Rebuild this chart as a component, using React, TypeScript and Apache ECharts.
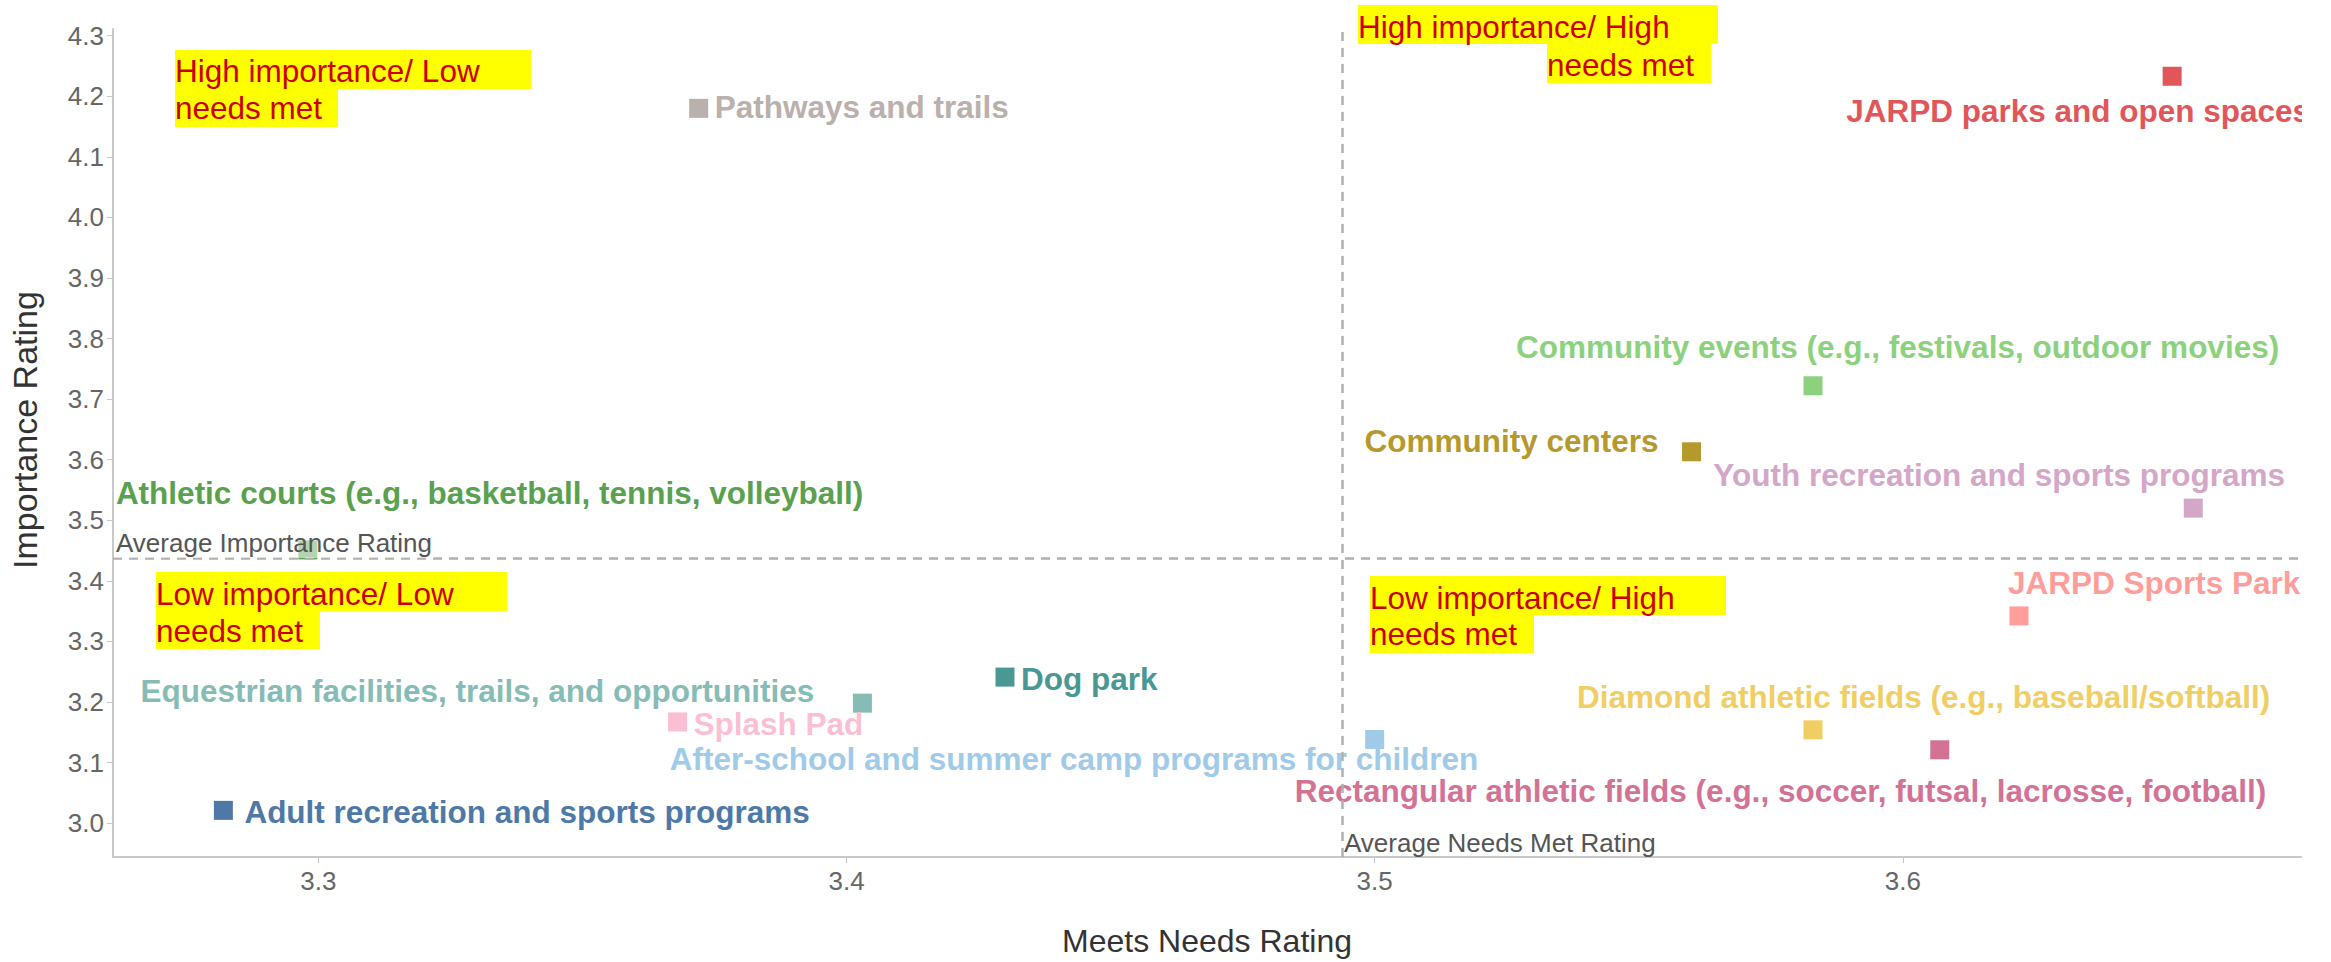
import React, { useEffect, useRef } from "react";
import * as echarts from "echarts";

const FONT = '"Liberation Sans", Arial, Helvetica, sans-serif';

// ---- data ----
const itemNames = [
  "Pathways and trails",
  "JARPD parks and open spaces",
  "Community events (e.g., festivals, outdoor movies)",
  "Community centers",
  "Youth recreation and sports programs",
  "JARPD Sports Park",
  "Athletic courts (e.g., basketball, tennis, volleyball)",
  "Equestrian facilities, trails, and opportunities",
  "Dog park",
  "Splash Pad",
  "After-school and summer camp programs for children",
  "Diamond athletic fields (e.g., baseball/softball)",
  "Rectangular athletic fields (e.g., soccer, futsal, lacrosse, football)",
  "Adult recreation and sports programs",
];
const needsMet = [3.372, 3.651, 3.583, 3.56, 3.655, 3.622, 3.298, 3.403, 3.43, 3.368, 3.5, 3.583, 3.607, 3.282];
const importance = [4.18, 4.233, 3.722, 3.613, 3.52, 3.342, 3.451, 3.198, 3.241, 3.167, 3.138, 3.154, 3.121, 3.021];
const itemColors = [
  "#bab0ac", "#e15759", "#8cd17d", "#b6992d", "#d4a6c8", "#ff9d9a", "#59a14f",
  "#86bcb6", "#499894", "#fabfd2", "#a0cbe8", "#f1ce63", "#d37295", "#4e79a7",
];
const avgNeedsMet = 3.4938;
const avgImportance = 3.4378;
const xTicks = [3.3, 3.4, 3.5, 3.6];
const yTicks = [3.0, 3.1, 3.2, 3.3, 3.4, 3.5, 3.6, 3.7, 3.8, 3.9, 4.0, 4.1, 4.2, 4.3];

// ---- layout (label offsets: text left edge / middle relative to the mark) ----
const labelOffsets: [number, number][] = [
  [16, -1], [-326, 35], [-297, -39], [-327, -11], [-480, -33], [-11, -33], [-192, -57],
  [-722, -12], [16, 2], [16, 2], [-705, 20], [-236, -33], [-645, 41], [21, 2],
];

const quadrants = [
  { lines: ["High importance/ Low", "needs met"], boxes: [[175, 50, 356, 39], [175, 89, 163, 38]], pos: [[175, 71], [175, 108]] },
  { lines: ["High importance/ High", "needs met"], boxes: [[1358, 5, 360, 39], [1547, 44, 164, 39]], pos: [[1358, 27], [1547, 65]] },
  { lines: ["Low importance/ Low", "needs met"], boxes: [[156, 572, 351, 39], [156, 611, 164, 38]], pos: [[156, 594], [156, 631]] },
  { lines: ["Low importance/ High", "needs met"], boxes: [[1370, 576, 356, 39], [1370, 615, 164, 38]], pos: [[1370, 598], [1370, 634]] },
];

export default function App() {
  const ref = useRef<HTMLDivElement>(null);
  useEffect(() => {
    if (!ref.current) return;
    const chart = echarts.init(ref.current, null, { renderer: "svg" });

    const data = itemNames.map((name, i) => ({
      name,
      value: [needsMet[i], importance[i]],
      itemStyle: { color: itemColors[i], opacity: 1 },
      label: {
        show: true,
        position: "inside",
        align: "left",
        verticalAlign: "middle",
        offset: labelOffsets[i],
        formatter: name,
        color: itemColors[i],
        opacity: 1,
        fontSize: 31.5,
        fontWeight: "bold",
        fontFamily: FONT,
        textBorderWidth: 0,
      },
    }));

    const graphics: any[] = [];
    quadrants.forEach((q) => {
      q.boxes.forEach((b) => {
        graphics.push({
          type: "rect",
          z: 20,
          shape: { x: b[0], y: b[1], width: b[2], height: b[3] },
          style: { fill: "#ffff00" },
          silent: true,
        });
      });
      q.lines.forEach((t, j) => {
        graphics.push({
          type: "text",
          z: 21,
          x: q.pos[j][0],
          y: q.pos[j][1],
          style: {
            text: t,
            fill: "#cc0000",
            fontSize: 31.5,
            fontFamily: FONT,
            align: "left",
            verticalAlign: "middle",
          },
          silent: true,
        });
      });
    });
    graphics.push({
      type: "text",
      z: 30,
      x: 114,
      y: 543,
      style: {
        text: "Average Importance Rating",
        fill: "#555555",
        fontSize: 26,
        fontFamily: FONT,
        align: "left",
        verticalAlign: "middle",
        backgroundColor: "rgba(255,255,255,0.55)",
        padding: [2, 2, 2, 2],
      },
      silent: true,
    });
    graphics.push({
      type: "text",
      z: 30,
      x: 1344,
      y: 843,
      style: {
        text: "Average Needs Met Rating",
        fill: "#555555",
        fontSize: 26,
        fontFamily: FONT,
        align: "left",
        verticalAlign: "middle",
      },
      silent: true,
    });
    graphics.push({
      type: "rect",
      z: 40,
      shape: { x: 2302, y: 0, width: 40, height: 860 },
      style: { fill: "#ffffff" },
      silent: true,
    });

    const axisCommon = {
      type: "value",
      splitLine: { show: false },
      axisLine: { show: true, onZero: false, lineStyle: { color: "#c8c8c8", width: 2 } },
    };

    chart.setOption({
      animation: false,
      backgroundColor: "#ffffff",
      grid: { left: 111, right: 30, top: 29, bottom: 100, containLabel: false },
      xAxis: {
        ...axisCommon,
        min: 3.2611,
        max: 3.6754,
        name: "Meets Needs Rating",
        nameLocation: "middle",
        nameGap: 68,
        nameTextStyle: { fontSize: 32, color: "#333333", fontFamily: FONT },
        axisTick: { show: true, customValues: xTicks, length: 6, lineStyle: { color: "#c8c8c8" } },
        axisLabel: {
          customValues: xTicks,
          formatter: (v: number) => v.toFixed(1),
          fontSize: 26,
          color: "#666666",
          fontFamily: FONT,
          margin: 11,
        },
      },
      yAxis: {
        ...axisCommon,
        min: 2.944,
        max: 4.311,
        name: "Importance Rating",
        nameLocation: "middle",
        nameRotate: 90,
        nameGap: 71,
        nameTextStyle: { fontSize: 34, color: "#333333", fontFamily: FONT, padding: [0, 0, 0, 26] },
        axisTick: { show: true, customValues: yTicks, length: 6, lineStyle: { color: "#c8c8c8" } },
        axisLabel: {
          customValues: yTicks,
          formatter: (v: number) => v.toFixed(1),
          fontSize: 26,
          color: "#666666",
          fontFamily: FONT,
          margin: 9,
        },
      },
      graphic: graphics,
      series: [
        {
          type: "scatter",
          symbol: "rect",
          symbolSize: 19,
          silent: true,
          clip: false,
          itemStyle: { opacity: 1 },
          data,
          markLine: {
            silent: true,
            symbol: "none",
            precision: 4,
            label: { show: false },
            lineStyle: { type: [9, 7], color: "#b0b0b0", width: 2.5, opacity: 1 },
            data: [{ xAxis: avgNeedsMet }, { yAxis: avgImportance }],
          },
        },
      ],
    });
    return () => chart.dispose();
  }, []);
  return <div ref={ref} style={{ position: "fixed", left: 0, top: 0, width: 2331, height: 962 }} />;
}
